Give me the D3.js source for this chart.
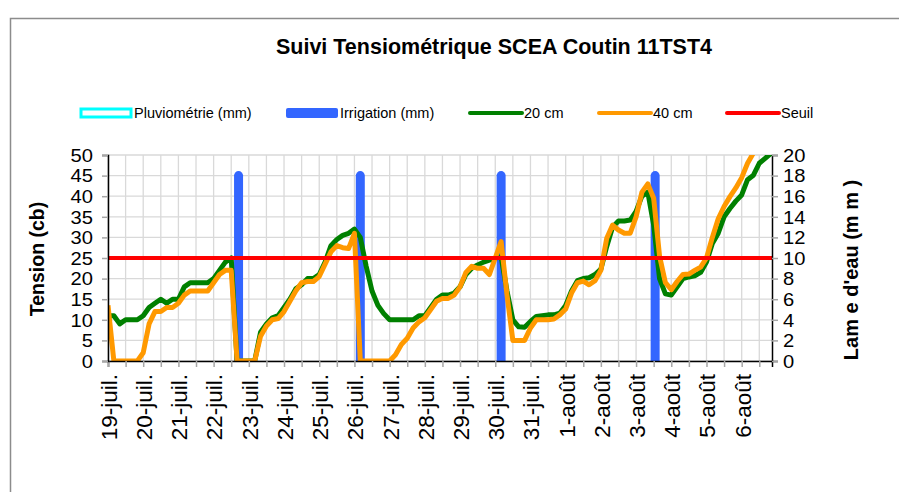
<!DOCTYPE html>
<html>
<head>
<meta charset="utf-8">
<script src="https://cdn.jsdelivr.net/npm/d3@7/dist/d3.min.js"></script>
<style>
  body { margin: 0; background: #fff; }
  text { font-family: "Liberation Sans", Arial, sans-serif; }
</style>
</head>
<body>
<div id="chart"></div>
<script>
// readings every 4 hours from 19 July 00:00
var startDate = new Date(2011, 6, 19, 0, 0);
var endDate = new Date(2011, 7, 6, 20, 40);
var stepHours = 4;

var tension20 = [11, 11, 9, 10, 10, 10, 11, 13, 14, 15, 14, 15, 15, 18, 19, 19, 19, 19, 20, 22,
  24, 25, 0, 0, 0, 0, 7, 9, 10.5, 11, 13, 15, 17.5, 18.5, 20, 20, 21, 24, 28, 29.5,
  30.5, 31, 32, 30, 23, 17, 13.5, 11.5, 10, 10, 10, 10, 10, 11, 11, 13, 15, 16, 16, 16.5,
  18, 21, 22.5, 23.3, 24, 24.5, 25, 25.3, 17, 10, 8.3, 8.2, 9.6, 10.8, 11, 11.2, 11.2, 11.6, 13.5, 17,
  19.5, 20, 20.2, 21, 22.3, 27.8, 32.5, 34, 34, 34.2, 36.3, 40, 41, 33, 20, 16.3, 16, 18, 20, 20.4,
  20.7, 21.5, 24, 28.5, 31, 35, 37, 38.8, 40.3, 44, 45.1, 48, 49.2, 50.4];

var tension40 = [13.5, 0, 0, 0, 0, 0, 2, 9, 12, 12, 13, 13, 14, 16, 17, 17, 17, 17, 19, 21,
  22, 22, 0, 0, 0, 0, 6, 8.5, 10, 10.3, 12, 14.5, 17, 19, 19.3, 19.3, 20.5, 23.5, 26.5, 28,
  27.5, 27.3, 31, 0, 0, 0, 0, 0, 0, 1.5, 4, 5.5, 8, 9.5, 10.5, 12.5, 14.5, 15.2, 15.2, 16,
  18, 21.5, 23, 22.5, 22.5, 21, 25, 29, 16, 5, 5, 5, 8, 10, 10, 10, 10.2, 11.2, 12.6, 16.5,
  19, 19.4, 18.5, 19.5, 22, 29.8, 33, 31.8, 31, 31, 35, 41, 43, 39.5, 25.5, 19, 17.3, 19.3, 21, 21.1,
  22, 22.8, 25, 30, 34.5, 37.5, 39.9, 42, 44.5, 48, 50.5, 52, 54, 55];

var irrigationDates = [new Date(2011, 6, 22, 17), new Date(2011, 6, 26, 4),
  new Date(2011, 6, 30, 4), new Date(2011, 7, 3, 13)];
var irrigationMm = [18, 18, 18, 18];
var seuil = 25;

var leftTicks = [0, 5, 10, 15, 20, 25, 30, 35, 40, 45, 50];
var rightTicks = [0, 2, 4, 6, 8, 10, 12, 14, 16, 18, 20];
var monthNames = ["janv.", "févr.", "mars", "avr.", "mai", "juin", "juil.", "août", "sept.", "oct.", "nov.", "déc."];

var legendItems = [
  { label: "Pluviométrie (mm)", kind: "pluvio", color: "#00ffff", x: 80 },
  { label: "Irrigation (mm)", kind: "bar", color: "#3366ff", x: 286 },
  { label: "20 cm", kind: "line", color: "#008000", x: 470 },
  { label: "40 cm", kind: "line", color: "#ff9900", x: 599 },
  { label: "Seuil", kind: "line", color: "#ff0000", x: 727 }
];

function init() {
  var w = 899, h = 492;
  var left = 108, right = 772, top = 155, bottom = 361;

  var svg = d3.select("#chart").append("svg")
    .attr("width", w)
    .attr("height", h);

  // outer frame
  svg.append("rect")
    .attr("x", 10.5).attr("y", 18.5)
    .attr("width", 950).attr("height", 600)
    .attr("fill", "none").attr("stroke", "#8c8c8c").attr("stroke-width", 1.5);

  var x = d3.scaleTime().domain([startDate, endDate]).range([left, right]);
  var yL = d3.scaleLinear().domain([0, 50]).range([bottom, top]);
  var yR = d3.scaleLinear().domain([0, 20]).range([bottom, top]);

  var data20 = tension20.map(function(v, i) {
    return { date: d3.timeHour.offset(startDate, i * stepHours), v: v };
  });
  var data40 = tension40.map(function(v, i) {
    return { date: d3.timeHour.offset(startDate, i * stepHours), v: v };
  });

  // title
  svg.append("text")
    .attr("x", 494).attr("y", 54)
    .attr("text-anchor", "middle")
    .style("font-size", "21.5px").style("font-weight", "bold")
    .text("Suivi Tensiométrique SCEA Coutin 11TST4");

  // gridlines
  var halfDays = x.ticks(d3.timeHour.every(12));
  svg.append("g").selectAll("line").data(halfDays).join("line")
    .attr("x1", function(d) { return x(d); }).attr("x2", function(d) { return x(d); })
    .attr("y1", top).attr("y2", bottom)
    .attr("stroke", "#d9d9d9").attr("stroke-width", 1.3);
  svg.append("g").selectAll("line").data(leftTicks).join("line")
    .attr("x1", left).attr("x2", right)
    .attr("y1", function(d) { return yL(d); }).attr("y2", function(d) { return yL(d); })
    .attr("stroke", "#d9d9d9").attr("stroke-width", 1.3);

  svg.append("defs").append("clipPath").attr("id", "plot")
    .append("rect").attr("x", left).attr("y", top)
    .attr("width", right - left).attr("height", bottom - top);

  var plot = svg.append("g").attr("clip-path", "url(#plot)");

  // irrigation bars
  plot.selectAll("line.irr").data(irrigationDates).join("line")
    .attr("class", "irr")
    .attr("x1", function(d) { return x(d); }).attr("x2", function(d) { return x(d); })
    .attr("y1", yR(0))
    .attr("y2", function(d, i) { return yR(irrigationMm[i]); })
    .attr("stroke", "#3366ff").attr("stroke-width", 9).attr("stroke-linecap", "round");

  var line = d3.line()
    .x(function(d) { return x(d.date); })
    .y(function(d) { return yL(d.v); });

  plot.append("path").datum(data20)
    .attr("d", line).attr("fill", "none")
    .attr("stroke", "#008000").attr("stroke-width", 5).attr("stroke-linejoin", "round");
  plot.append("path").datum(data40)
    .attr("d", line).attr("fill", "none")
    .attr("stroke", "#ff9900").attr("stroke-width", 5).attr("stroke-linejoin", "round");

  svg.append("line")
    .attr("x1", left).attr("x2", right)
    .attr("y1", yL(seuil)).attr("y2", yL(seuil))
    .attr("stroke", "#ff0000").attr("stroke-width", 4);

  // x axis
  var xAxis = d3.axisBottom(x).tickValues(halfDays).tickSize(6).tickFormat("");
  var gx = svg.append("g").attr("transform", "translate(0," + bottom + ")").call(xAxis);
  gx.select(".domain").attr("stroke", "#000").attr("stroke-width", 1.5);
  gx.selectAll(".tick line").attr("stroke", "#a6a6a6").attr("stroke-width", 1.5);

  var days = x.ticks(d3.timeDay.every(1));
  svg.append("g").selectAll("text").data(days).join("text")
    .attr("transform", function(d) { return "translate(" + (x(d) + 1) + "," + (bottom + 13) + ") rotate(-90)"; })
    .attr("text-anchor", "end")
    .attr("dy", "0.35em")
    .style("font-size", "22.5px")
    .text(function(d) { return d.getDate() + "-" + monthNames[d.getMonth()]; });

  // y axes (labels widened a little, as in the reference)
  var gl = svg.append("g").attr("transform", "translate(" + left + ",0)")
    .call(d3.axisLeft(yL).tickValues(leftTicks).tickSize(6).tickPadding(0).tickFormat(""));
  gl.select(".domain").attr("stroke", "#000").attr("stroke-width", 1.5);
  gl.selectAll(".tick line").attr("stroke", "#a6a6a6").attr("stroke-width", 1.5);
  gl.selectAll(".tick").append("text")
    .attr("transform", "translate(-15,0) scale(1.12,1)")
    .attr("text-anchor", "end").attr("dy", "0.35em")
    .style("font-size", "18px").attr("fill", "#000")
    .text(function(d) { return d; });

  var gr = svg.append("g").attr("transform", "translate(" + right + ",0)")
    .call(d3.axisRight(yR).tickValues(rightTicks).tickSize(6).tickPadding(0).tickFormat(""));
  gr.select(".domain").attr("stroke", "#000").attr("stroke-width", 1.5);
  gr.selectAll(".tick line").attr("stroke", "#a6a6a6").attr("stroke-width", 1.5);
  gr.selectAll(".tick").append("text")
    .attr("transform", "translate(11,0) scale(1.12,1)")
    .attr("text-anchor", "start").attr("dy", "0.35em")
    .style("font-size", "18px").attr("fill", "#000")
    .text(function(d) { return d; });

  // axis titles
  svg.append("text")
    .attr("transform", "translate(37," + ((top + bottom) / 2 + 1) + ") rotate(-90)")
    .attr("text-anchor", "middle").attr("dy", "0.35em")
    .style("font-size", "19.5px").style("font-weight", "bold")
    .text("Tension (cb)");
  svg.append("text")
    .attr("transform", "translate(851," + ((top + bottom) / 2 + 12) + ") rotate(-90)")
    .attr("text-anchor", "middle").attr("dy", "0.35em")
    .style("font-size", "20px").style("font-weight", "bold")
    .text("Lam e d'eau (m m )");

  // legend
  var ly = 113;
  var lg = svg.append("g").selectAll("g").data(legendItems).join("g")
    .attr("transform", function(d) { return "translate(" + d.x + "," + ly + ")"; });
  lg.each(function(d) {
    var g = d3.select(this);
    if (d.kind === "pluvio") {
      g.append("rect").attr("x", 1).attr("y", -4).attr("width", 50).attr("height", 8)
        .attr("fill", "#fff").attr("stroke", d.color).attr("stroke-width", 3);
    } else if (d.kind === "bar") {
      g.append("rect").attr("x", 0).attr("y", -5).attr("width", 52).attr("height", 10)
        .attr("rx", 2).attr("fill", d.color);
    } else {
      g.append("line").attr("x1", 0).attr("x2", 52).attr("y1", 0).attr("y2", 0)
        .attr("stroke", d.color).attr("stroke-width", 4).attr("stroke-linecap", "round");
    }
    g.append("text").attr("x", 54).attr("dy", "0.35em")
      .style("font-size", "14.5px").text(d.label);
  });
}

window.onload = init;
</script>
</body>
</html>
